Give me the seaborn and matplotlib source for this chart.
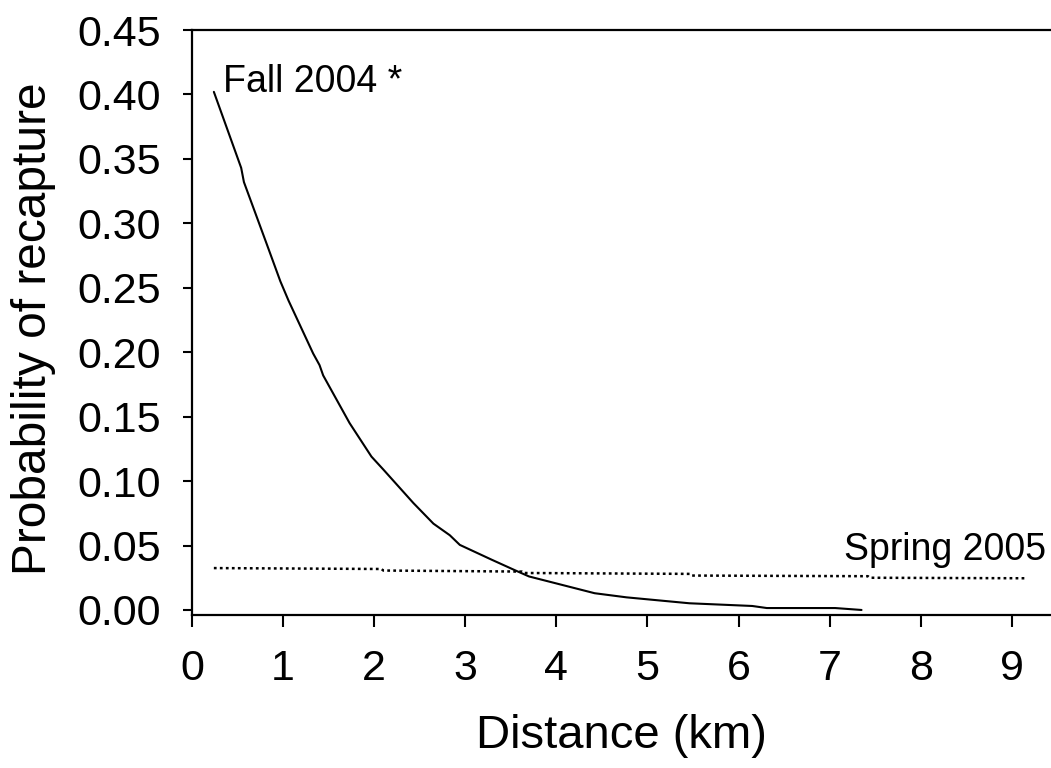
import matplotlib
matplotlib.use("Agg")
import matplotlib.pyplot as plt
import pandas as pd
import seaborn as sns

# ── data ───────────────────────────────────────────────────────────────────────
fall_km = [0.24, 0.54, 0.57, 0.82, 0.97, 1.06, 1.33, 1.40, 1.44, 1.73, 1.97,
           2.10, 2.43, 2.65, 2.83, 2.94, 3.29, 3.54, 3.70, 4.42, 4.77, 5.46,
           6.15, 6.31, 7.06, 7.35]
fall_p = [0.402, 0.343, 0.332, 0.284, 0.255, 0.240, 0.199, 0.190, 0.182, 0.145,
          0.119, 0.109, 0.083, 0.067, 0.058, 0.0505, 0.039, 0.031, 0.026, 0.013,
          0.0098, 0.0052, 0.0031, 0.0015, 0.0015, 0.0]

spring_km = [0.24, 2.08, 2.10, 3.62, 3.64, 5.47, 5.49, 7.42, 7.44, 9.14]
spring_p = [0.0325, 0.0318, 0.0306, 0.0298, 0.0287, 0.0280, 0.0267, 0.0262,
            0.0250, 0.0246]

x_ticks = list(range(10))
y_ticks = [0.00, 0.05, 0.10, 0.15, 0.20, 0.25, 0.30, 0.35, 0.40, 0.45]

FONT = ["Liberation Sans", "DejaVu Sans"]

sns.set_theme(style="ticks")
plt.rcParams["font.family"] = FONT

fall = pd.DataFrame({"km": fall_km, "p": fall_p})
spring = pd.DataFrame({"km": spring_km, "p": spring_p})

fig = plt.figure(figsize=(10.51, 7.68), dpi=100)
ax = fig.add_axes([192 / 1051, 1 - 615 / 768, 1 - 192 / 1051, (615 - 30) / 768])

sns.lineplot(data=fall, x="km", y="p", ax=ax, color="black", lw=1.5,
             sort=False, estimator=None)
sns.lineplot(data=spring, x="km", y="p", ax=ax, color="black", lw=1.8,
             linestyle=(0, (1.1, 1.3)), sort=False, estimator=None)

ax.set_xlim(0, 9.43)
ax.set_ylim(-0.0039, 0.45)
ax.set_xticks(x_ticks)
ax.set_yticks(y_ticks)
ax.set_yticklabels([f"{v:.2f}" for v in y_ticks])

for side in ("left", "bottom", "top"):
    ax.spines[side].set_linewidth(1.6)
    ax.spines[side].set_color("black")
ax.spines["right"].set_visible(False)

ax.tick_params(axis="x", length=8.6, width=1.5, pad=16, labelsize=31,
               colors="black")
ax.tick_params(axis="y", length=6.5, width=1.5, pad=16, labelsize=31,
               colors="black")

ax.set_xlabel("Distance (km)", fontsize=34, color="black")
ax.set_ylabel("Probability of recapture", fontsize=34.5, color="black")
ax.xaxis.set_label_coords(0.5, -0.17)
ax.yaxis.set_label_coords(-0.158, 0.49)

ax.text(0.34, 0.402, "Fall 2004 *", fontsize=27, color="black",
        ha="left", va="baseline")
ax.text(7.16, 0.0389, "Spring 2005", fontsize=27, color="black",
        ha="left", va="baseline")

fig.savefig("out.png", dpi=100)
